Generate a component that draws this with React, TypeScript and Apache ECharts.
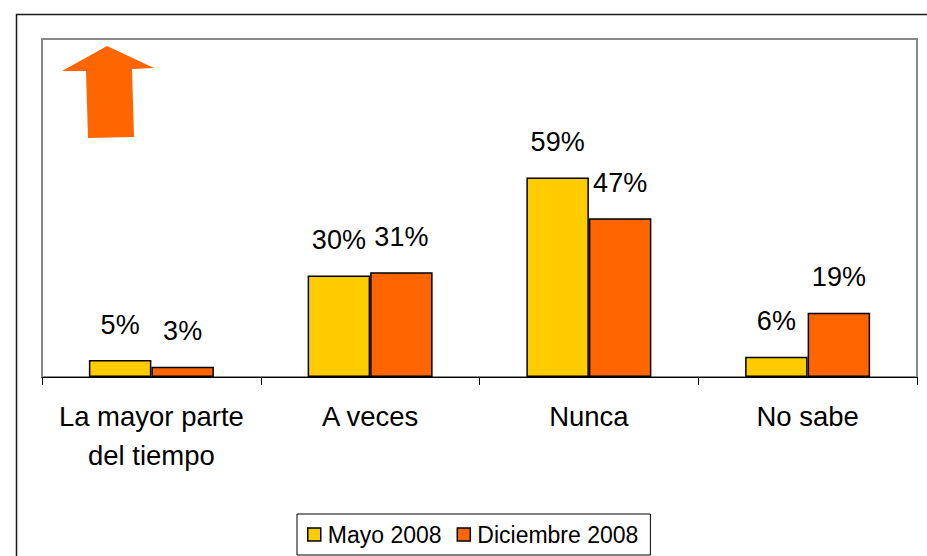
import React, { useEffect, useRef } from "react";
import * as echarts from "echarts";

const categories = ["La mayor parte\ndel tiempo", "A veces", "Nunca", "No sabe"];
const seriesNames = ["Mayo 2008", "Diciembre 2008"];
const mayo2008 = [5, 30, 59, 6];
const diciembre2008 = [3, 31, 47, 19];
const colors = ["#FFCC00", "#FF6600"];

export default function App() {
  const ref = useRef<HTMLDivElement>(null);
  useEffect(() => {
    if (!ref.current) return;
    const chart = echarts.init(ref.current, null, { renderer: "svg" });
    const font = "'Liberation Sans', Arial, sans-serif";
    const labelCfg = {
      show: true,
      position: "top",
      distance: 22,
      formatter: "{c}%",
      color: "#000",
      fontSize: 27,
      fontFamily: font,
    };
    chart.setOption({
      animation: false,
      backgroundColor: "#fff",
      textStyle: { fontFamily: font },
      grid: {
        left: 42,
        right: 10,
        top: 39,
        bottom: 179,
        show: true,
        borderColor: "#888",
        borderWidth: 2,
        backgroundColor: "transparent",
      },
      legend: {
        data: seriesNames,
        left: 297,
        top: 514,
        orient: "horizontal",
        icon: "rect",
        itemWidth: 13,
        itemHeight: 13,
        itemGap: 15,
        padding: [9, 12, 9, 10],
        borderColor: "#000",
        borderWidth: 1,
        itemStyle: { borderColor: "#000", borderWidth: 1.5 },
        textStyle: { fontSize: 23, color: "#000", fontFamily: font, padding: [0, 0, 0, 2] },
      },
      xAxis: {
        type: "category",
        data: categories,
        boundaryGap: true,
        axisLine: { show: true, lineStyle: { color: "#000", width: 1 } },
        axisTick: { show: true, length: 8, lineStyle: { color: "#000" }, alignWithLabel: false },
        axisLabel: {
          color: "#000",
          fontSize: 27.5,
          lineHeight: 39,
          margin: 20,
          fontFamily: font,
          interval: 0,
        },
        splitLine: { show: false },
      },
      yAxis: {
        type: "value",
        min: 0,
        max: 100,
        show: false,
        splitLine: { show: false },
      },
      series: [
        {
          name: seriesNames[0],
          type: "bar",
          data: mayo2008,
          barWidth: 62.5,
          barGap: "0%",
          itemStyle: { color: colors[0], borderColor: "#000", borderWidth: 1.5 },
          label: labelCfg,
        },
        {
          name: seriesNames[1],
          type: "bar",
          data: diciembre2008,
          barWidth: 62.5,
          barGap: "0%",
          itemStyle: { color: colors[1], borderColor: "#000", borderWidth: 1.5 },
          label: labelCfg,
        },
      ],
      graphic: [
        {
          type: "rect",
          shape: { x: 16.5, y: 14.5, width: 1000, height: 1000 },
          style: { fill: "none", stroke: "#1a1a1a", lineWidth: 1.5 },
          silent: true,
        },
        {
          type: "polygon",
          shape: {
            points: [
              [107, 46],
              [154, 68],
              [132, 69],
              [134, 137],
              [88, 138],
              [86, 71],
              [62, 71],
            ],
          },
          style: { fill: "#FF6600" },
          silent: true,
        },
      ],
    });
    return () => chart.dispose();
  }, []);
  return (
    <div
      ref={ref}
      style={{ position: "fixed", left: 0, top: 0, width: 927, height: 556 }}
    />
  );
}
